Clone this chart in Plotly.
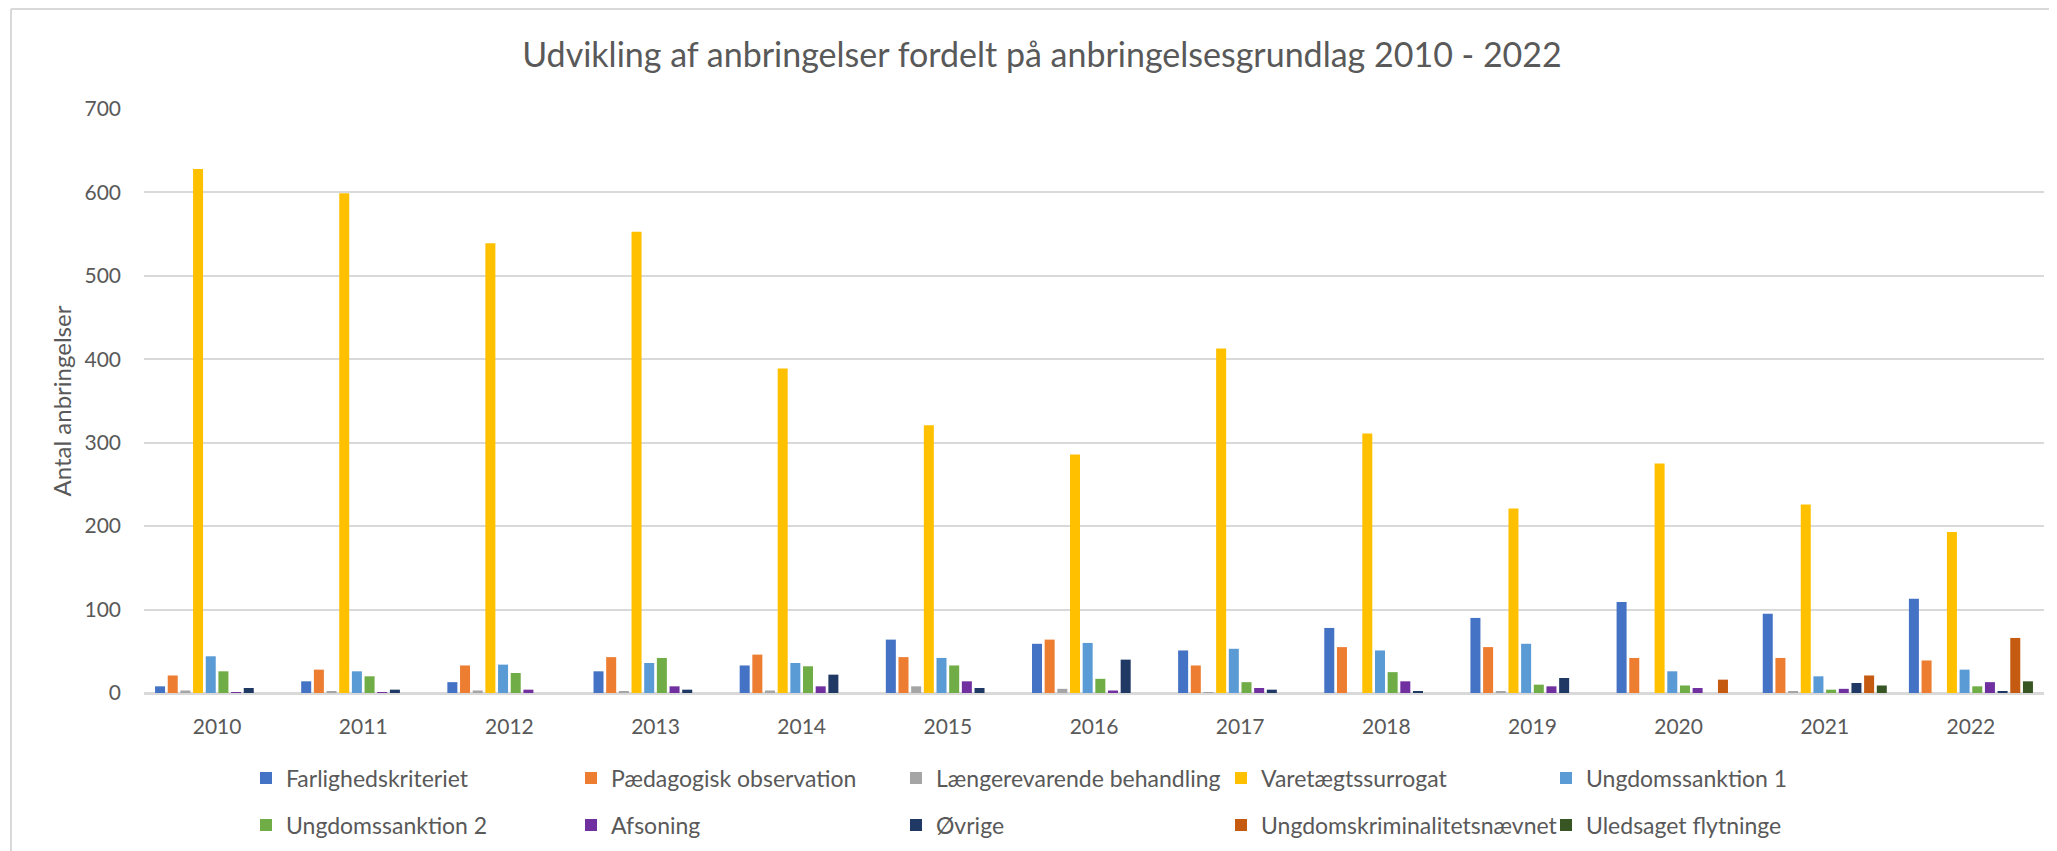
import plotly.graph_objects as go

years = [str(y) for y in range(2010, 2023)]

farlighedskriteriet = [8, 14, 13, 26, 33, 64, 59, 51, 78, 90, 109, 95, 113]
paedagogisk_observation = [21, 28, 33, 43, 46, 43, 64, 33, 55, 55, 42, 42, 39]
laengerevarende_behandling = [3, 2, 3, 2, 3, 8, 5, 1, 0, 2, 0, 2, 0]
varetaegtssurrogat = [628, 599, 539, 553, 389, 321, 286, 413, 311, 221, 275, 226, 193]
ungdomssanktion_1 = [44, 26, 34, 36, 36, 42, 60, 53, 51, 59, 26, 20, 28]
ungdomssanktion_2 = [26, 20, 24, 42, 32, 33, 17, 13, 25, 10, 9, 4, 8]
afsoning = [1, 1, 4, 8, 8, 14, 3, 6, 14, 8, 6, 5, 13]
oevrige = [6, 4, 0, 4, 22, 6, 40, 4, 2, 18, 0, 12, 2]
ungdomskriminalitetsnaevnet = [0, 0, 0, 0, 0, 0, 0, 0, 0, 0, 16, 21, 66]
uledsaget_flytninge = [0, 0, 0, 0, 0, 0, 0, 0, 0, 0, 0, 9, 14]

series_names = [
    "Farlighedskriteriet", "Pædagogisk observation", "Længerevarende behandling",
    "Varetægtssurrogat", "Ungdomssanktion 1", "Ungdomssanktion 2", "Afsoning",
    "Øvrige", "Ungdomskriminalitetsnævnet", "Uledsaget flytninge",
]
series_values = [
    farlighedskriteriet, paedagogisk_observation, laengerevarende_behandling,
    varetaegtssurrogat, ungdomssanktion_1, ungdomssanktion_2, afsoning,
    oevrige, ungdomskriminalitetsnaevnet, uledsaget_flytninge,
]
colors = ["#4472C4", "#ED7D31", "#A5A5A5", "#FFC000", "#5B9BD5",
          "#70AD47", "#7030A0", "#203864", "#C55A11", "#375623"]

W, H = 2057, 851
OFF = 8  # page body margin offset
FONT = "Lato"
GREY = "#595959"

# plot area in page pixels
PL, PR, PT, PB = 144, 2044, 109, 693
l, r = PL - OFF, W - (PR - OFF)
t, b = PT - OFF, H - (PB - OFF)
pw, ph = PR - PL, PB - PT

fig = go.Figure()
for i, (name, vals, col) in enumerate(zip(series_names, series_values, colors)):
    fig.add_trace(go.Bar(
        x=years, y=vals, name=name, marker_color=col,
        marker_line_width=0,
        legend="legend" if i < 5 else "legend2",
    ))

legend_common = dict(
    orientation="h", xref="container", yref="container",
    xanchor="left", yanchor="middle",
    font=dict(family=FONT, size=23, color=GREY),
    entrywidth=280, entrywidthmode="pixels",
    bgcolor="rgba(0,0,0,0)", itemclick=False, itemdoubleclick=False,
    traceorder="normal",
)

fig.update_layout(
    width=W, height=H,
    paper_bgcolor="white", plot_bgcolor="white",
    margin=dict(l=l, r=r, t=t, b=b, autoexpand=False),
    barmode="group", bargap=0.133, bargroupgap=0.21,
    title=dict(
        text="Udvikling af anbringelser fordelt på anbringelsesgrundlag 2010 - 2022",
        font=dict(family=FONT, size=34, color=GREY),
        x=(1042 - OFF) / W, xanchor="center", xref="container",
        y=1 - (55.5 - OFF) / H, yanchor="middle", yref="container",
    ),
    font=dict(family=FONT, color=GREY),
    legend=dict(legend_common, x=(246 - OFF) / W, y=1 - (778 - OFF) / H),
    legend2=dict(legend_common, x=(246 - OFF) / W, y=1 - (825 - OFF) / H),
    showlegend=True,
    xaxis=dict(
        type="category", showgrid=False, showline=True,
        linecolor="#D9D9D9", linewidth=1.5,
        ticks="", tickfont=dict(family=FONT, size=21, color=GREY),
        ticklabelstandoff=14,
    ),
    yaxis=dict(
        range=[0, 700], dtick=100, tick0=0,
        showgrid=True, gridcolor="#D9D9D9", gridwidth=1.5,
        zeroline=True, zerolinecolor="#D9D9D9", zerolinewidth=1.5,
        showline=False, ticks="",
        tickfont=dict(family=FONT, size=21, color=GREY),
        ticklabelstandoff=22,
        title=dict(text="Antal anbringelser",
                   font=dict(family=FONT, size=24, color=GREY), standoff=6),
    ),
)

# chart frame (left and top edges visible in the reference)
fx = (11 - PL) / pw
fy = (PB - 9) / ph
fig.add_shape(type="line", xref="paper", yref="paper",
              x0=fx, x1=(W + 20 - PL) / pw, y0=fy, y1=fy,
              line=dict(color="#D9D9D9", width=2))
fig.add_shape(type="line", xref="paper", yref="paper",
              x0=fx, x1=fx, y0=fy, y1=(PB - H - 20) / ph,
              line=dict(color="#D9D9D9", width=2))

fig.write_html("out.html")
